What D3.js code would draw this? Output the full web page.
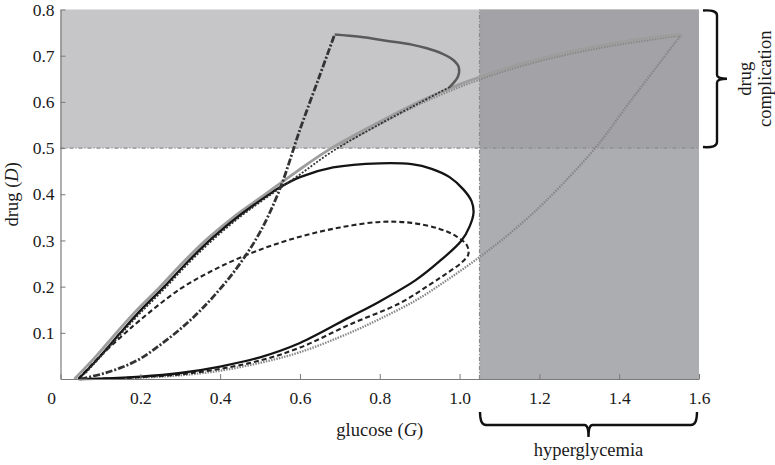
<!DOCTYPE html>
<html>
<head>
<meta charset="utf-8">
<script src="https://cdn.jsdelivr.net/npm/d3@7"></script>
<style>
  html, body { margin: 0; padding: 0; background: #fff; }
  svg { display: block; font-family: "Liberation Serif", "Times New Roman", serif; }
</style>
</head>
<body>
<svg id="chart" width="775" height="465"></svg>
<script>
// ---- data (glucose G, drug D) ----
const xTicks = [0, 0.2, 0.4, 0.6, 0.8, 1.0, 1.2, 1.4, 1.6];
const yTicks = [0.1, 0.2, 0.3, 0.4, 0.5, 0.6, 0.7, 0.8];
const drugThreshold = 0.5;
const glucoseThreshold = 1.05;

const grayUpper = [[0.035,0],[0.09,0.05],[0.14,0.1],[0.19,0.148],[0.25,0.2],[0.31,0.255],[0.37,0.305],[0.44,0.355],[0.51,0.398],[0.59,0.448],[0.67,0.495],[0.8,0.557],[0.9,0.601],[1.0,0.638],[1.1,0.668],[1.2,0.693],[1.3,0.713],[1.4,0.729],[1.5,0.741],[1.556,0.746]];
const grayDottedUpper = [[0.7,0.505],[0.8,0.551],[0.9,0.595],[1.0,0.632],[1.1,0.663],[1.2,0.688],[1.3,0.708],[1.4,0.724],[1.5,0.737],[1.556,0.744]];
const grayDottedLower = [[1.556,0.746],[1.5,0.683],[1.42,0.592],[1.34,0.5],[1.218,0.387],[1.13,0.318],[1.05,0.264],[0.97,0.215],[0.89,0.17],[0.8,0.13],[0.725,0.1],[0.6,0.058],[0.5,0.035],[0.4,0.018],[0.3,0.008],[0.2,0.003],[0.1,0.0005],[0.05,0]];

const blackLoop = [[0.045,0],[0.1,0.05],[0.15,0.1],[0.2,0.148],[0.26,0.2],[0.32,0.255],[0.38,0.305],[0.45,0.355],[0.52,0.398],[0.55,0.415],[0.6,0.437],[0.683,0.458],[0.8,0.467],[0.88,0.465],[0.93,0.455],[0.975,0.437],[1.01,0.41],[1.03,0.385],[1.035,0.36],[1.025,0.33],[1.005,0.3],[0.95,0.255],[0.89,0.214],[0.8,0.168],[0.725,0.134],[0.6,0.078],[0.5,0.047],[0.4,0.027],[0.3,0.013],[0.2,0.005],[0.1,0.001],[0.045,0]];

const dashedLoop = [[0.045,0],[0.1,0.05],[0.15,0.09],[0.2,0.128],[0.3,0.195],[0.4,0.243],[0.5,0.28],[0.6,0.308],[0.7,0.328],[0.8,0.34],[0.88,0.338],[0.95,0.325],[0.99,0.31],[1.018,0.29],[1.022,0.27],[1.005,0.252],[0.97,0.23],[0.93,0.207],[0.85,0.164],[0.725,0.118],[0.6,0.068],[0.5,0.04],[0.4,0.022],[0.3,0.01],[0.2,0.004],[0.12,0.001],[0.06,0]];

const steepRise = [[0.05,0],[0.1,0.01],[0.15,0.024],[0.2,0.044],[0.25,0.074],[0.3,0.108],[0.35,0.148],[0.4,0.195],[0.45,0.25],[0.5,0.318],[0.55,0.412],[0.6,0.54],[0.65,0.658],[0.687,0.746]];
const steepArc = [[0.687,0.746],[0.75,0.741],[0.82,0.732],[0.88,0.724],[0.918,0.716],[0.955,0.705],[0.985,0.69],[0.998,0.675],[0.996,0.655],[0.975,0.632]];
const steepReturn = [[0.975,0.632],[0.9,0.598],[0.8,0.552],[0.68,0.492],[0.6,0.443],[0.52,0.395],[0.45,0.351],[0.38,0.3],[0.32,0.25],[0.26,0.195],[0.2,0.143],[0.15,0.096],[0.1,0.048],[0.06,0.01]];

// ---- layout ----
const svg = d3.select("#chart");
const x = d3.scaleLinear().domain([0, 1.6]).range([60.5, 699]);
const y = d3.scaleLinear().domain([0, 0.8]).range([379, 9.5]);

// shaded regions
svg.append("rect").attr("x", x(0)).attr("y", y(0.8)).attr("width", x(1.6) - x(0)).attr("height", y(drugThreshold) - y(0.8)).attr("fill", "#c6c6c8");
svg.append("rect").attr("x", x(glucoseThreshold)).attr("y", y(drugThreshold)).attr("width", x(1.6) - x(glucoseThreshold)).attr("height", y(0) - y(drugThreshold)).attr("fill", "#acadb1");
svg.append("rect").attr("x", x(glucoseThreshold)).attr("y", y(0.8)).attr("width", x(1.6) - x(glucoseThreshold)).attr("height", y(drugThreshold) - y(0.8)).attr("fill", "#a3a3a7");

// threshold lines
svg.append("line").attr("x1", x(0)).attr("x2", x(1.6)).attr("y1", y(drugThreshold)).attr("y2", y(drugThreshold))
  .attr("stroke", "#8a8a8a").attr("stroke-width", 1.2).attr("stroke-dasharray", "4,2,1,2");
svg.append("line").attr("x1", x(glucoseThreshold)).attr("x2", x(glucoseThreshold)).attr("y1", y(0)).attr("y2", y(0.8))
  .attr("stroke", "#8a8a8a").attr("stroke-width", 1.2).attr("stroke-dasharray", "4,2,1,2");

// curves
const line = d3.line().x(d => x(d[0])).y(d => y(d[1])).curve(d3.curveCatmullRom.alpha(0.5));
function draw(data, stroke, width, dash) {
  svg.append("path").datum(data).attr("d", line).attr("fill", "none")
    .attr("stroke", stroke).attr("stroke-width", width)
    .attr("stroke-dasharray", dash || null).attr("stroke-linejoin", "round");
}
draw(grayDottedLower, "#878787", 2.3, "1.5,1.2");
draw(grayDottedUpper, "#878787", 2, "1.5,1.2");
draw(grayUpper, "#9d9d9d", 2.8);
draw(dashedLoop, "#222", 2.1, "5,3");
draw(blackLoop, "#141414", 2.3);
draw(steepRise, "#333", 2.8, "7,2,2,2");
draw(steepArc, "#5a5a5a", 2.5);
draw(steepReturn, "#333", 1.8, "2,1.6");

// axes
const fmt = d => d === 0 ? "0" : d3.format(".1f")(d);
const gx = svg.append("g").attr("transform", `translate(0,${y(0)})`)
  .call(d3.axisBottom(x).tickValues(xTicks).tickFormat(fmt).tickSizeInner(-5).tickSizeOuter(0).tickPadding(13));
const gy = svg.append("g").attr("transform", `translate(${x(0)},0)`)
  .call(d3.axisLeft(y).tickValues(yTicks).tickFormat(d3.format(".1f")).tickSizeInner(-5).tickSizeOuter(0).tickPadding(6));
[gx, gy].forEach(g => {
  g.select(".domain").attr("stroke", "#7a7a7a").attr("stroke-width", 1.2);
  g.selectAll(".tick line").attr("stroke", "#7a7a7a");
  g.selectAll(".tick text").attr("fill", "#1a1a1a").style("font-size", "17.5px").style("font-family", "'Liberation Serif', serif");
});
gx.selectAll(".tick text").filter(d => d === 0).attr("dx", -9.5);

// axis titles
const xt = svg.append("text").attr("x", x(0.8)).attr("y", 436).attr("text-anchor", "middle")
  .style("font-size", "18.5px").attr("fill", "#1a1a1a");
xt.append("tspan").text("glucose (");
xt.append("tspan").attr("font-style", "italic").text("G");
xt.append("tspan").text(")");

const yt = svg.append("text").attr("transform", `translate(18,${y(0.4)}) rotate(-90)`).attr("text-anchor", "middle")
  .style("font-size", "18.5px").attr("fill", "#1a1a1a");
yt.append("tspan").text("drug (");
yt.append("tspan").attr("font-style", "italic").text("D");
yt.append("tspan").text(")");

// right brace (drug complication)
const bx = x(1.6) + 18, yTop = y(0.8), yBot = y(drugThreshold), yMid = (yTop + yBot) / 2;
svg.append("path").attr("fill", "none").attr("stroke", "#111").attr("stroke-width", 2.4)
  .attr("d", `M${bx-14},${yTop+1} Q${bx},${yTop} ${bx},${yTop+6} L${bx},${yMid-4} Q${bx},${yMid} ${bx+10},${yMid} Q${bx},${yMid} ${bx},${yMid+4} L${bx},${yBot-6} Q${bx},${yBot} ${bx-14},${yBot-1}`);
svg.append("text").attr("transform", `translate(751,${yMid}) rotate(-90)`).attr("text-anchor", "middle")
  .style("font-size", "18.5px").attr("fill", "#1a1a1a").text("drug");
svg.append("text").attr("transform", `translate(771,${yMid}) rotate(-90)`).attr("text-anchor", "middle")
  .style("font-size", "18.5px").attr("fill", "#1a1a1a").text("complication");

// bottom brace (hyperglycemia)
const bxL = x(glucoseThreshold) + 0.5, bxR = x(1.6) - 2, by = 425, bxM = (bxL + bxR) / 2;
svg.append("path").attr("fill", "none").attr("stroke", "#111").attr("stroke-width", 2.4)
  .attr("d", `M${bxL},${by-13} Q${bxL},${by} ${bxL+6},${by} L${bxM-4},${by} Q${bxM},${by} ${bxM},${by+12} Q${bxM},${by} ${bxM+4},${by} L${bxR-6},${by} Q${bxR},${by} ${bxR},${by-13}`);
svg.append("text").attr("x", bxM).attr("y", 456).attr("text-anchor", "middle")
  .style("font-size", "18.5px").attr("fill", "#1a1a1a").text("hyperglycemia");
</script>
</body>
</html>
